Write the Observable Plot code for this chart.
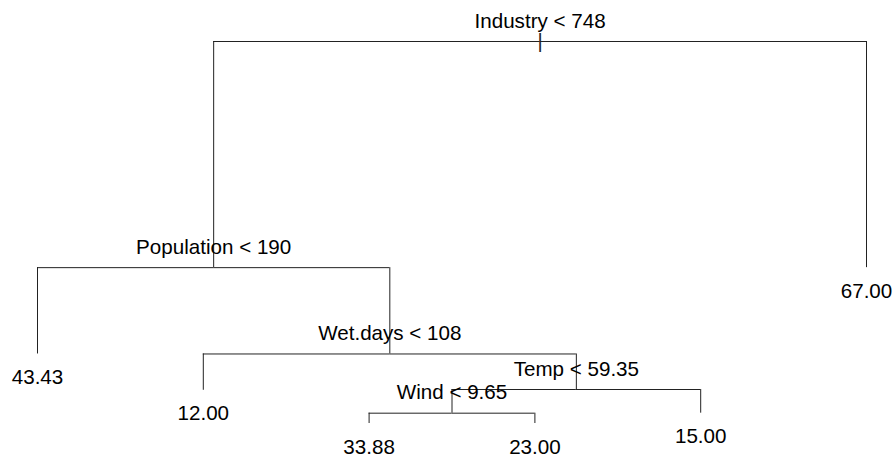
<!DOCTYPE html>
<html>
<head>
<meta charset="utf-8">
<script src="https://cdn.jsdelivr.net/npm/d3@7"></script>
<script src="https://cdn.jsdelivr.net/npm/@observablehq/plot@0.6"></script>
<style>
  html, body { margin: 0; padding: 0; background: #fff; }
  #chart svg { display: block; }
</style>
</head>
<body>
<div id="chart"></div>
<script>
// Tree nodes in preorder (rpart-style regression tree)
const nodeLabels = ["Industry < 748", "Population < 190", "43.43", "Wet.days < 108", "12.00",
                    "Temp < 59.35", "Wind < 9.65", "33.88", "23.00", "15.00", "67.00"];
const nodeParents = [null, 0, 1, 1, 3, 3, 5, 6, 6, 5, 0];
// vertical position of each node (deviance-proportional height)
const nodeDev = [100, 40.8, 18.2, 18.2, 8.7, 8.9, 2.7, 0, 0, 2.7, 40.8];

// Build tree
const nodes = nodeLabels.map((label, i) => ({id: i, label, parent: nodeParents[i], dev: nodeDev[i], children: []}));
nodes.forEach(n => { if (n.parent !== null) nodes[n.parent].children.push(n); });
// leaf positions: equal spacing in preorder
let leafIndex = 0;
function place(n) {
  if (n.children.length === 0) { n.x = ++leafIndex; }
  else { n.children.forEach(place); n.x = d3.mean(n.children, c => c.x); }
}
place(nodes[0]);

const edges = nodes.filter(n => n.parent !== null).map(n => ({
  px: nodes[n.parent].x, py: nodes[n.parent].dev, cx: n.x, cy: n.dev
}));
const splits = nodes.filter(n => n.children.length > 0);
const leaves = nodes.filter(n => n.children.length === 0);
const root = [nodes[0]];

const font = "'Liberation Sans', Arial, sans-serif";
const chart = Plot.plot({
  width: 894,
  height: 460,
  marginLeft: 37,
  marginRight: 28,
  marginTop: 41,
  marginBottom: 37,
  x: {domain: [1, 6], axis: null},
  y: {domain: [0, 100], axis: null},
  style: {fontFamily: font, background: "#fff"},
  marks: [
    Plot.ruleY(edges, {x1: "px", x2: "cx", y: "py", stroke: "#222", strokeWidth: 1}),
    Plot.ruleX(edges, {x: "cx", y1: "py", y2: "cy", stroke: "#222", strokeWidth: 1}),
    Plot.text(root, {x: "x", y: "dev", text: () => "|", fontSize: 20, lineAnchor: "middle", fill: "#222"}),
    Plot.text(splits, {x: "x", y: "dev", text: "label", fontSize: 20.6, lineAnchor: "bottom", dy: -14, fill: "#000"}),
    Plot.text(leaves, {x: "x", y: "dev", text: "label", fontSize: 20.6, lineAnchor: "bottom", dy: 30, fill: "#000"})
  ]
});
document.getElementById("chart").appendChild(chart);
</script>
</body>
</html>
